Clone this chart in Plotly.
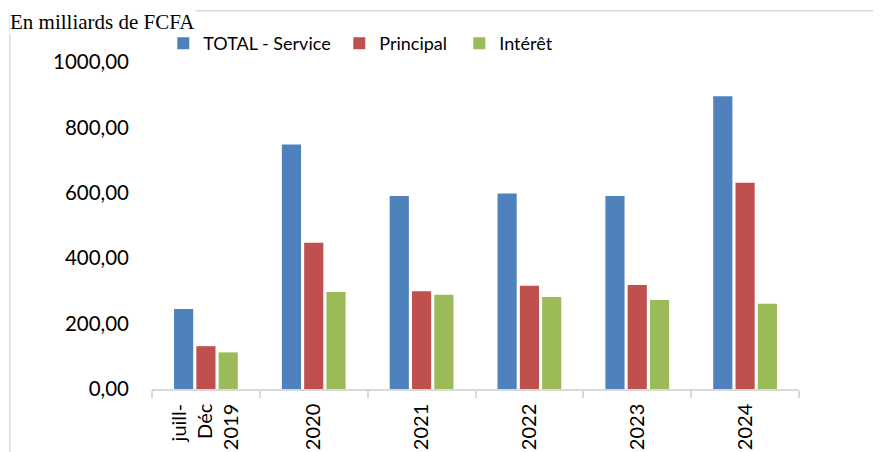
import plotly.graph_objects as go

categories = ["juill-Déc 2019", "2020", "2021", "2022", "2023", "2024"]
category_labels = ["juill-<br>Déc<br>2019", "2020", "2021", "2022", "2023", "2024"]
total_service = [245, 748, 590, 598, 590, 895]
principal = [131, 447, 299, 316, 318, 631]
interet = [112, 297, 288, 281, 272, 261]
y_ticks = [0, 200, 400, 600, 800, 1000]
y_tick_labels = ["0,00", "200,00", "400,00", "600,00", "800,00", "1000,00"]
unit_title = "En milliards de FCFA"

# page has an 8px body margin: work in figure pixels = page pixels - 8
OFF = 8
W, H = 881 - OFF, 452 - OFF
L, R, T, B = 151.7 - OFF, 798.7 - OFF, 61.5 - OFF, 389.5 - OFF
pw, ph = R - L, B - T


def px_x(x):
    return (x - OFF - L) / pw


def px_y(y):
    return (B - (y - OFF)) / ph


FONT = "Lato, 'Open Sans', sans-serif"
LEG_FONT = dict(size=18, family=FONT, color="#000000")

fig = go.Figure()
fig.add_trace(go.Bar(name="TOTAL - Service", x=categories, y=total_service,
                     marker=dict(color="#4F81BD", line=dict(width=0)),
                     legend="legend"))
fig.add_trace(go.Bar(name="Principal", x=categories, y=principal,
                     marker=dict(color="#C0504D", line=dict(width=0)),
                     legend="legend2"))
fig.add_trace(go.Bar(name="Intérêt", x=categories, y=interet,
                     marker=dict(color="#9BBB59", line=dict(width=0)),
                     legend="legend3"))


def leg(xpage):
    return dict(orientation="h", x=px_x(xpage), xanchor="left",
                y=px_y(43), yanchor="middle", font=LEG_FONT,
                bgcolor="rgba(0,0,0,0)", itemwidth=30)


fig.update_layout(
    width=W, height=H,
    margin=dict(l=L, r=W - R, t=T, b=H - B, pad=0, autoexpand=False),
    paper_bgcolor="white", plot_bgcolor="white",
    barmode="group", bargap=0.38, bargroupgap=0.14,
    font=dict(family=FONT, color="#000000"),
    showlegend=True,
    legend=leg(163),
    legend2=leg(339),
    legend3=leg(459),
    xaxis=dict(
        type="category", tickmode="array", tickvals=categories,
        ticktext=category_labels, tickangle=-90,
        tickfont=dict(size=20, family=FONT, color="#000000"),
        showline=True, linecolor="#d9d9d9", linewidth=1.5,
        ticks="outside", tickson="boundaries", ticklen=7,
        tickcolor="#d9d9d9", tickwidth=1.5, ticklabelstandoff=5,
        showgrid=False, zeroline=False, fixedrange=True, automargin=False,
    ),
    yaxis=dict(
        range=[0, 1000], tickmode="array", tickvals=y_ticks,
        ticktext=y_tick_labels,
        tickfont=dict(size=20.5, family=FONT, color="#000000"),
        showline=False, showgrid=False, zeroline=False, ticks="",
        ticklabelstandoff=22, fixedrange=True, automargin=False,
    ),
    shapes=[
        dict(type="rect", xref="paper", yref="paper",
             x0=px_x(9.5), x1=px_x(900), y0=px_y(480), y1=px_y(10),
             line=dict(color="#d9d9d9", width=1.5), fillcolor="rgba(0,0,0,0)",
             layer="below"),
    ],
    annotations=[
        dict(text=unit_title, xref="paper", yref="paper",
             x=px_x(9), y=px_y(OFF), xanchor="left", yanchor="top",
             showarrow=False, bgcolor="white", borderpad=0,
             font=dict(family="'Liberation Serif', 'Times New Roman', serif",
                       size=21, color="#000000")),
    ],
)

fig.write_html("out.html")
